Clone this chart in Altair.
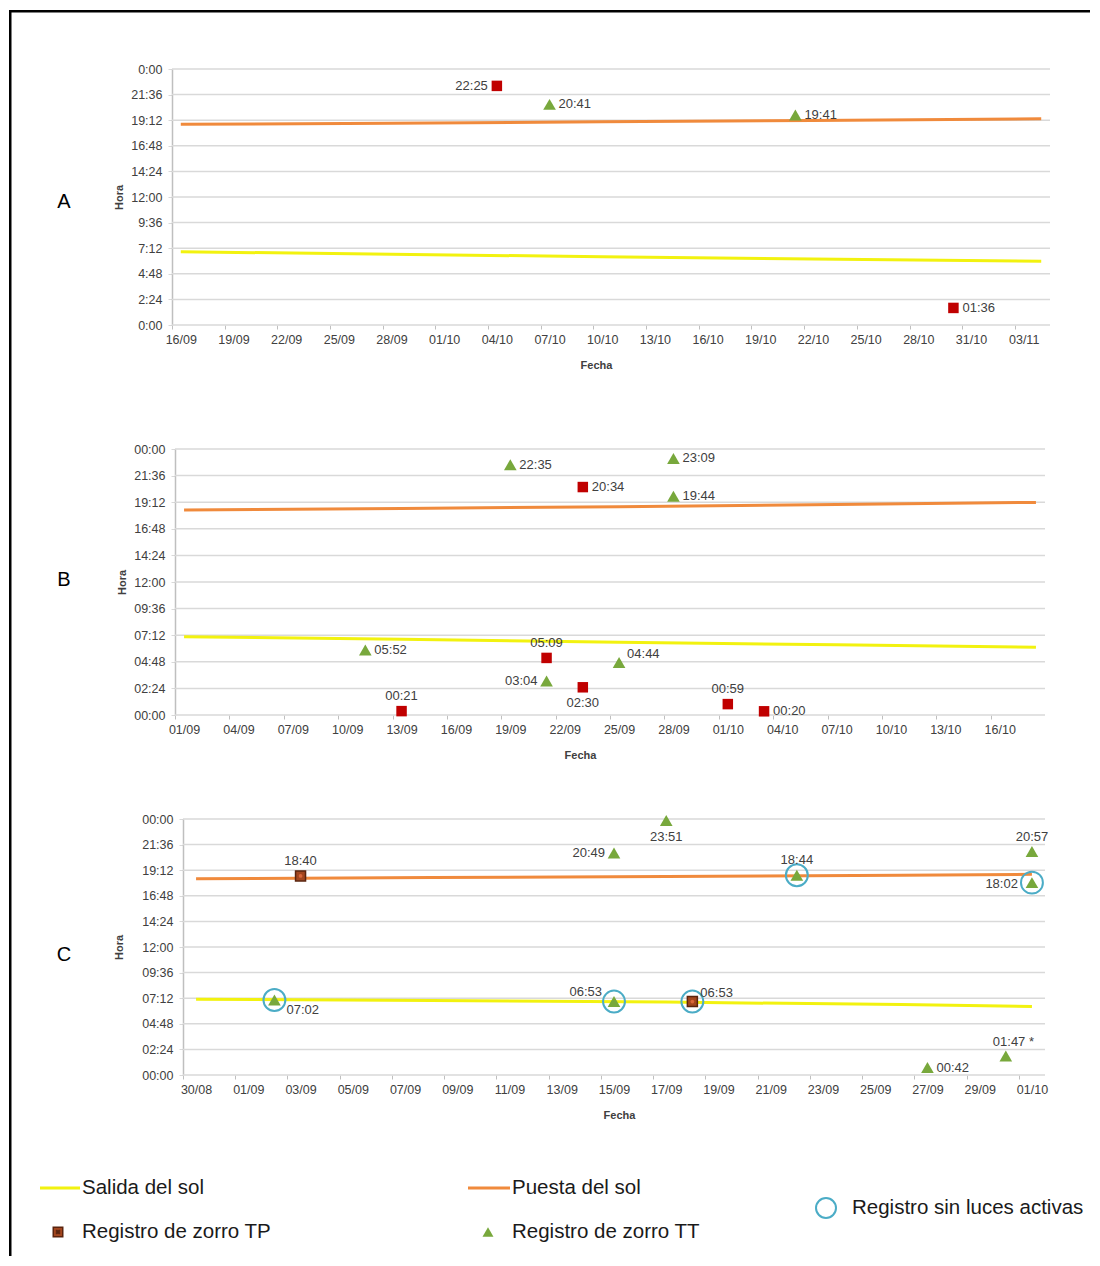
import altair as alt
import pandas as pd

ANIO = 2015
FUENTE = "Liberation Sans"
GRIS_TXT = "#404040"
COL_SALIDA = "#F2F20F"
COL_PUESTA = "#F08A3C"
COL_TP = "#C00000"
COL_TP_C = "#A3461E"
COL_TP_BORDE = "#5A240E"
COL_TT = "#78A83C"
COL_CIRC = "#4BACC6"
COL_GRID = "#D9D9D9"

HORA_TICKS = [0, 2.4, 4.8, 7.2, 9.6, 12, 14.4, 16.8, 19.2, 21.6, 24]

# ---------------- Panel A ----------------
A_FECHAS = ["04/10", "07/10", "21/10", "30/10"]
A_HORAS = ["22:25", "20:41", "19:41", "01:36"]
A_ETIQ = ["22:25", "20:41", "19:41", "01:36"]
A_TIPO = ["TP", "TT", "TT", "TP"]
A_POS = ["l", "r", "r", "r"]
A_SIN_LUCES = [False, False, False, False]
A_SOL_FECHAS = ["16/09", "28/09", "10/10", "22/10", "04/11"]
A_SALIDA = ["06:52", "06:38", "06:24", "06:11", "05:58"]
A_PUESTA = ["18:49", "18:55", "19:03", "19:11", "19:20"]
A_TICKS = ["16/09", "19/09", "22/09", "25/09", "28/09", "01/10", "04/10", "07/10",
           "10/10", "13/10", "16/10", "19/10", "22/10", "25/10", "28/10", "31/10", "03/11"]
A_DOMINIO = ["16/09", "05/11"]

# ---------------- Panel B ----------------
B_FECHAS = ["11/09", "13/09", "19/09", "21/09", "21/09", "23/09", "23/09", "25/09",
            "28/09", "28/09", "01/10", "03/10"]
B_HORAS = ["05:52", "00:21", "22:35", "05:09", "03:04", "20:34", "02:30", "04:44",
           "23:09", "19:44", "00:59", "00:20"]
B_ETIQ = list(B_HORAS)
B_TIPO = ["TT", "TP", "TT", "TP", "TT", "TP", "TP", "TT", "TT", "TT", "TP", "TP"]
B_POS = ["r", "t", "r", "t", "l", "r", "b", "tr", "r", "r", "t", "r"]
B_SIN_LUCES = [False] * 12
B_SOL_FECHAS = ["01/09", "13/09", "25/09", "07/10", "18/10"]
B_SALIDA = ["07:04", "06:50", "06:34", "06:20", "06:07"]
B_PUESTA = ["18:30", "18:38", "18:48", "19:00", "19:11"]
B_TICKS = ["01/09", "04/09", "07/09", "10/09", "13/09", "16/09", "19/09", "22/09",
           "25/09", "28/09", "01/10", "04/10", "07/10", "10/10", "13/10", "16/10"]
B_DOMINIO = ["01/09", "19/10"]

# ---------------- Panel C ----------------
C_FECHAS = ["02/09", "03/09", "15/09", "15/09", "17/09", "18/09", "22/09", "27/09",
            "30/09", "01/10", "01/10"]
C_HORAS = ["07:02", "18:40", "20:49", "06:53", "23:51", "06:53", "18:44", "00:42",
           "01:47", "20:57", "18:02"]
C_ETIQ = ["07:02", "18:40", "20:49", "06:53", "23:51", "06:53", "18:44", "00:42",
          "01:47 *", "20:57", "18:02"]
C_TIPO = ["TT", "TP", "TT", "TT", "TT", "TP", "TT", "TT", "TT", "TT", "TT"]
C_POS = ["br", "t", "l", "tl", "b", "tr", "t", "r", "ta", "t", "L"]
C_SIN_LUCES = [True, False, False, True, False, True, True, False, False, False, True]
C_SOL_FECHAS = ["30/08", "08/09", "17/09", "26/09", "01/10"]
C_SALIDA = ["07:06", "06:59", "06:50", "06:36", "06:26"]
C_PUESTA = ["18:24", "18:31", "18:37", "18:43", "18:49"]
C_TICKS = ["30/08", "01/09", "03/09", "05/09", "07/09", "09/09", "11/09", "13/09", "15/09",
           "17/09", "19/09", "21/09", "23/09", "25/09", "27/09", "29/09", "01/10"]
C_DOMINIO = ["30/08", "02/10"]

LEYENDA = ["Salida del sol", "Puesta del sol", "Registro de zorro TP",
           "Registro de zorro TT", "Registro sin luces activas"]

# label placement styles (offsets in px)
POS = {
    "r": dict(align="left", dx=9, dy=0),
    "l": dict(align="right", dx=-9, dy=0),
    "L": dict(align="right", dx=-14, dy=1),
    "t": dict(align="center", dx=0, dy=-15),
    "b": dict(align="center", dx=0, dy=16),
    "tr": dict(align="left", dx=8, dy=-9),
    "tl": dict(align="right", dx=-12, dy=-10),
    "br": dict(align="left", dx=12, dy=10),
    "ta": dict(align="left", dx=-13, dy=-14),
}

# page layout (px)
O = 172                      # common origin of every cell (vconcat aligns origins)
FRAME_X0, FRAME_X1 = 9, 11.5
TOP_Y0, TOP_Y1 = 10, 12.5
FRAME_RIGHT = 1090


def hm(s):
    h, m = s.split(":")
    return int(h) + int(m) / 60.0


def fecha(s):
    d, m = s.split("/")
    return pd.Timestamp(ANIO, int(m), int(d), 12)


def dia(s):
    d, m = s.split("/")
    return pd.Timestamp(ANIO, int(m), int(d))


def dt(s):
    d, m = s.split("/")
    return alt.DateTime(year=ANIO, month=int(m), date=int(d))


UNO = pd.DataFrame({"k": [0]})
GRID = pd.DataFrame({"y": HORA_TICKS})


def panel(letra, fechas, horas, etiq, tipos, pos, sin_luces, sol_fechas, salida, puesta,
          ticks, dominio, w, h, fmt_expr, geo, tp_c=False):
    T = geo["top"]
    s = geo["left"] - O
    pts = pd.DataFrame({
        "x": [fecha(f) for f in fechas],
        "y": [hm(t) for t in horas],
        "etiqueta": etiq, "tipo": tipos, "pos": pos, "circ": sin_luces,
    })
    n = len(sol_fechas)
    sol = pd.DataFrame({
        "x": [fecha(f) for f in sol_fechas] * 2,
        "y": [hm(t) for t in salida] + [hm(t) for t in puesta],
        "serie": ["Salida"] * n + ["Puesta"] * n,
    })
    dias = (dia(dominio[1]) - dia(dominio[0])).days
    half = w / dias / 2.0
    x_enc = alt.X(
        "x:T",
        scale=alt.Scale(domain=[dt(dominio[0]), dt(dominio[1])], range=[s, s + w]),
        axis=alt.Axis(
            values=[dt(t) for t in ticks], format="%d/%m", labelOffset=half,
            labelFlush=False, labelOverlap=False, grid=False, domain=False,
            tickSize=4, tickColor="#BFBFBF",
            labelPadding=4, labelFontSize=12.5, labelFont=FUENTE, labelColor=GRIS_TXT,
            title="Fecha", titleFont=FUENTE, titleFontSize=11, titleFontWeight="bold",
            titleColor=GRIS_TXT, titlePadding=14, titleX=geo["title_x"] - O,
        ),
    )
    y_enc = alt.Y(
        "y:Q",
        scale=alt.Scale(domain=[0, 24], nice=False, zero=True),
        axis=alt.Axis(
            values=HORA_TICKS, labelExpr=fmt_expr, grid=False, offset=-s,
            tickSize=4, tickColor=COL_GRID, domainColor="#BFBFBF",
            domainWidth=1.5, labelPadding=6, labelFontSize=12.5, labelFont=FUENTE,
            labelColor=GRIS_TXT, title="Hora", titleFont=FUENTE, titleFontSize=11,
            titleFontWeight="bold", titleColor=GRIS_TXT, titlePadding=geo["title_pad"],
        ),
    )
    layers = []
    layers.append(alt.Chart(GRID).mark_rule(color=COL_GRID, strokeWidth=1.5).encode(
        y=y_enc, x=alt.value(s), x2=alt.value(s + w)))
    layers.append(alt.Chart(UNO).mark_rect(color="black").encode(
        x=alt.value(FRAME_X0 - O), x2=alt.value(FRAME_X1 - O),
        y=alt.value(geo["cell_top"] - T), y2=alt.value(geo["cell_bottom"] - T)))
    if geo.get("top_bar"):
        layers.append(alt.Chart(UNO).mark_rect(color="black").encode(
            x=alt.value(FRAME_X0 - O), x2=alt.value(FRAME_RIGHT - O),
            y=alt.value(TOP_Y0 - T), y2=alt.value(TOP_Y1 - T)))
    layers.append(alt.Chart(UNO).mark_text(
        text=letra, fontSize=20, font=FUENTE, color="black", align="center",
        baseline="middle").encode(x=alt.value(64 - O), y=alt.value(geo["label_y"] - T)))
    for serie, color in [("Salida", COL_SALIDA), ("Puesta", COL_PUESTA)]:
        layers.append(alt.Chart(sol).transform_filter(alt.datum.serie == serie)
                      .mark_line(color=color, strokeWidth=3).encode(x=x_enc, y=y_enc))
    if any(sin_luces):
        layers.append(alt.Chart(pts).transform_filter("datum.circ")
                      .mark_point(shape="circle", filled=False, size=480, stroke=COL_CIRC,
                                  strokeWidth=2, opacity=1).encode(x=x_enc, y=y_enc))
    if tp_c:
        layers.append(alt.Chart(pts).transform_filter(alt.datum.tipo == "TP")
                      .mark_point(shape="square", filled=True, fill=COL_TP_C, stroke=COL_TP_BORDE,
                                  strokeWidth=1.5, size=100, opacity=1).encode(x=x_enc, y=y_enc))
        layers.append(alt.Chart(pts).transform_filter(alt.datum.tipo == "TP")
                      .mark_point(shape="circle", filled=True, color="#D9673A", size=14,
                                  opacity=1).encode(x=x_enc, y=y_enc))
    else:
        layers.append(alt.Chart(pts).transform_filter(alt.datum.tipo == "TP")
                      .mark_point(shape="square", filled=True, color=COL_TP, size=110,
                                  opacity=1).encode(x=x_enc, y=y_enc))
    layers.append(alt.Chart(pts).transform_filter(alt.datum.tipo == "TT")
                  .mark_point(shape="triangle-up", filled=True, color=COL_TT, size=160,
                              opacity=1).encode(x=x_enc, y=y_enc))
    for key in sorted(set(pos)):
        p = POS[key]
        layers.append(alt.Chart(pts).transform_filter(alt.datum.pos == key)
                      .mark_text(align=p["align"], baseline="middle", dx=p["dx"], dy=p["dy"],
                                 fontSize=13, font=FUENTE, color=GRIS_TXT)
                      .encode(x=x_enc, y=y_enc, text="etiqueta:N"))
    return alt.layer(*layers).properties(width=s + w, height=h)


FMT_A = ("floor(round(datum.value*60)/60) % 24 + ':' + "
         "format(round(datum.value*60) % 60, '02d')")
FMT_BC = ("format(floor(round(datum.value*60)/60) % 24, '02d') + ':' + "
          "format(round(datum.value*60) % 60, '02d')")

pA = panel("A", A_FECHAS, A_HORAS, A_ETIQ, A_TIPO, A_POS, A_SIN_LUCES, A_SOL_FECHAS,
           A_SALIDA, A_PUESTA, A_TICKS, A_DOMINIO, 878, 256, FMT_A,
           dict(left=172, top=69, cell_top=10, cell_bottom=400, label_y=202,
                title_pad=6, title_x=596, top_bar=True))
pB = panel("B", B_FECHAS, B_HORAS, B_ETIQ, B_TIPO, B_POS, B_SIN_LUCES, B_SOL_FECHAS,
           B_SALIDA, B_PUESTA, B_TICKS, B_DOMINIO, 870, 266, FMT_BC,
           dict(left=175, top=449, cell_top=400, cell_bottom=785, label_y=580,
                title_pad=6, title_x=580))
pC = panel("C", C_FECHAS, C_HORAS, C_ETIQ, C_TIPO, C_POS, C_SIN_LUCES, C_SOL_FECHAS,
           C_SALIDA, C_PUESTA, C_TICKS, C_DOMINIO, 862, 256, FMT_BC,
           dict(left=183, top=819, cell_top=785, cell_bottom=1150, label_y=955,
                title_pad=17, title_x=619), tp_c=True)

# ---------------- Legend cell (origin at page x = O, y = 1150) ----------------
LEG_H = 106
ley = []
ley.append(alt.Chart(UNO).mark_rect(color="black").encode(
    x=alt.value(FRAME_X0 - O), x2=alt.value(FRAME_X1 - O), y=alt.value(0), y2=alt.value(LEG_H)))


def leg_text(txt, x, y):
    return alt.Chart(UNO).mark_text(text=txt, align="left", baseline="middle", fontSize=20.5,
                                    font=FUENTE, color="#1A1A1A").encode(
        x=alt.value(x - O), y=alt.value(y))


ley.append(alt.Chart(UNO).mark_rule(color=COL_SALIDA, strokeWidth=3).encode(
    x=alt.value(40 - O), x2=alt.value(80 - O), y=alt.value(38)))
ley.append(leg_text(LEYENDA[0], 82, 38))
ley.append(alt.Chart(UNO).mark_rule(color=COL_PUESTA, strokeWidth=3).encode(
    x=alt.value(468 - O), x2=alt.value(510 - O), y=alt.value(38)))
ley.append(leg_text(LEYENDA[1], 512, 38))
ley.append(alt.Chart(UNO).mark_point(shape="square", filled=True, fill=COL_TP_C,
                                     stroke=COL_TP_BORDE, strokeWidth=1.5, size=90,
                                     opacity=1).encode(x=alt.value(58 - O), y=alt.value(82)))
ley.append(alt.Chart(UNO).mark_point(shape="cross", filled=True, color=COL_TP_BORDE, size=28,
                                     angle=45, opacity=1).encode(
    x=alt.value(58 - O), y=alt.value(82)))
ley.append(leg_text(LEYENDA[2], 82, 82))
ley.append(alt.Chart(UNO).mark_point(shape="triangle-up", filled=True, color=COL_TT, size=120,
                                     opacity=1).encode(x=alt.value(488 - O), y=alt.value(82)))
ley.append(leg_text(LEYENDA[3], 512, 82))
ley.append(alt.Chart(UNO).mark_point(shape="circle", filled=False, stroke=COL_CIRC,
                                     strokeWidth=2, size=400, opacity=1).encode(
    x=alt.value(826 - O), y=alt.value(58)))
ley.append(leg_text(LEYENDA[4], 852, 58))
leyenda = alt.layer(*ley).properties(width=FRAME_RIGHT - O, height=LEG_H)

chart = (
    alt.vconcat(pA, pB, pC, leyenda, spacing=0)
    .properties(padding={"left": 1, "top": 2, "right": 0, "bottom": 0})
    .configure_view(strokeWidth=0)
)
chart.save("out.html", embed_options={"renderer": "svg", "actions": False})
